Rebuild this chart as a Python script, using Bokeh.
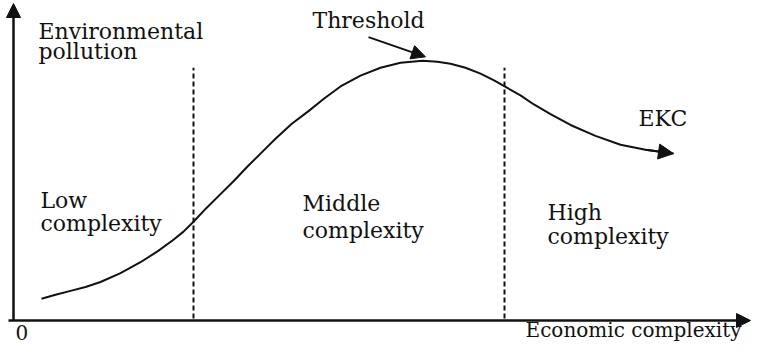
from bokeh.plotting import figure
from bokeh.models import Range1d, Arrow, NormalHead, ColumnDataSource
from bokeh.core.properties import value
from bokeh.embed import file_html
from bokeh.resources import INLINE

# EKC curve (economic complexity vs environmental pollution)
curve_x = [28, 42, 57, 72, 87, 107, 127, 144, 159, 170, 180, 193, 207, 221, 234, 248, 262, 278, 295,
           311, 327, 347, 367, 387, 409, 424, 437, 452, 467, 481, 493, 507, 520, 537, 557, 582, 607, 632, 660]
curve_y = [22, 26, 30, 34, 39, 48, 59, 70, 81, 90, 100, 114, 128, 142, 156, 170, 184, 199, 212,
           225, 237, 248, 256, 261, 263, 262, 260, 256, 250, 243, 236, 228, 219, 209, 198, 187, 178, 173, 169]

# complexity regime boundaries
boundary_x = [180, 491]
boundary_top = [256, 256]
boundary_bottom = [2, 2]

# axis extents
x_axis_start = -5
x_axis_end = 737
y_axis_end = 321

# labels
label_text = ["Environmental", "pollution", "Threshold", "EKC",
              "Low", "complexity", "Middle", "complexity", "High", "complexity"]
label_x = [25, 25, 299, 625, 27, 27, 289, 289, 534, 534]
label_y = [293, 272, 304, 205, 122, 98, 118, 91, 109, 85]
origin_label = "0"
origin_pos = (2, -12.2)
xlabel_text = "Economic complexity"
xlabel_pos = (728, -10.1)

# threshold pointer
thr_start = (355, 287)
thr_end = (412, 267)

FONT = "DejaVu Serif"
FS = "22px"
FS_BOTTOM = "20px"
INK = "#111111"

p = figure(width=751, height=344, output_backend="svg", toolbar_location=None,
           x_range=Range1d(-13, 738), y_range=Range1d(-24.3, 324.05),
           min_border=0, outline_line_color=None)
p.axis.visible = False
p.grid.visible = False
p.background_fill_color = "white"

# axes with arrows
p.add_layout(Arrow(x_start=0, y_start=0, x_end=0, y_end=y_axis_end, line_width=2.5, line_color=INK,
                   end=NormalHead(size=14, fill_color=INK, line_color=INK)))
p.add_layout(Arrow(x_start=x_axis_start, y_start=0, x_end=x_axis_end, y_end=0, line_width=2.5, line_color=INK,
                   end=NormalHead(size=14, fill_color=INK, line_color=INK)))

# boundaries
p.segment(x0=boundary_x, y0=boundary_bottom, x1=boundary_x, y1=boundary_top,
          line_color=INK, line_width=2, line_dash="5 3")

# curve
p.line(curve_x, curve_y, line_color=INK, line_width=2, line_join="round")
p.add_layout(Arrow(x_start=curve_x[-2], y_start=curve_y[-2], x_end=curve_x[-1], y_end=curve_y[-1],
                   line_width=2, line_color=INK,
                   end=NormalHead(size=15, fill_color=INK, line_color=INK)))

# threshold arrow
p.add_layout(Arrow(x_start=thr_start[0], y_start=thr_start[1], x_end=thr_end[0], y_end=thr_end[1],
                   line_width=2, line_color=INK,
                   end=NormalHead(size=14, fill_color=INK, line_color=INK)))

src = ColumnDataSource(dict(x=label_x, y=label_y, t=label_text))
p.text(x="x", y="y", text="t", source=src, text_font=value(FONT), text_font_size=FS,
       text_color=INK, text_baseline="alphabetic", text_align="left")
p.text(x=[origin_pos[0]], y=[origin_pos[1]], text=[origin_label], text_font=value(FONT),
       text_font_size=FS_BOTTOM, text_color=INK, text_baseline="alphabetic", text_align="left")
p.text(x=[xlabel_pos[0]], y=[xlabel_pos[1]], text=[xlabel_text], text_font=value(FONT),
       text_font_size=FS_BOTTOM, text_color=INK, text_baseline="alphabetic", text_align="right")

open("out.html", "w").write(file_html(p, INLINE))
